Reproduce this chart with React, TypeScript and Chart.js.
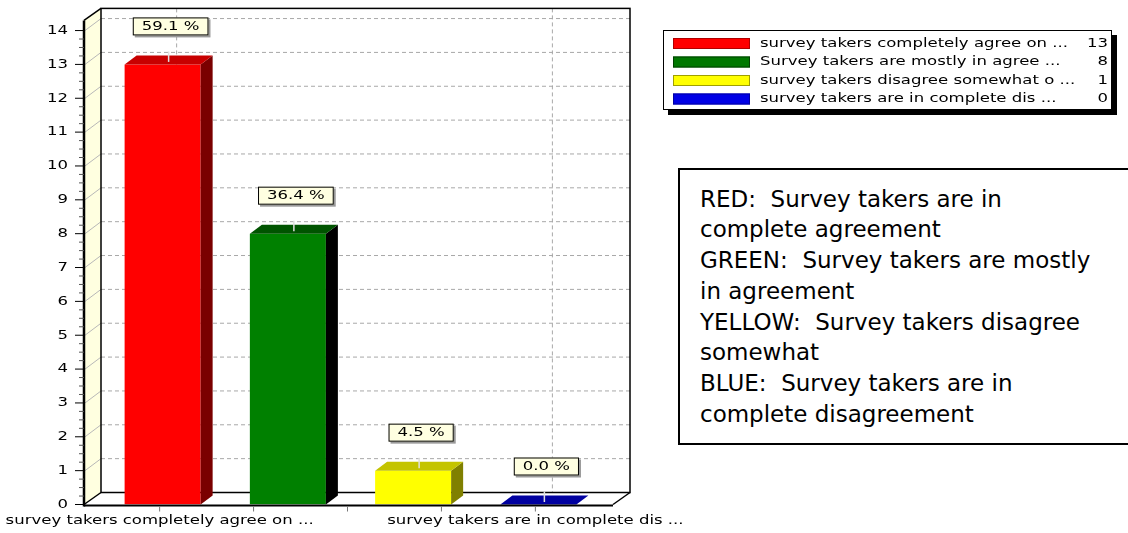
import React, { useEffect, useRef } from 'react';
import { Chart, registerables } from 'chart.js';

Chart.register(...registerables);

// ---------------- data ----------------
const categories = [
  'survey takers completely agree on ...',
  'Survey takers are mostly in agree ...',
  'survey takers disagree somewhat o ...',
  'survey takers are in complete dis ...',
];
const counts = [13, 8, 1, 0];
const yTickValues = [0, 1, 2, 3, 4, 5, 6, 7, 8, 9, 10, 11, 12, 13, 14];
const labelledCategories = [0, 3];
const xTickPositions = [0, 0.75, 1.5, 2.25, 3];
const frontColors = ['#FF0000', '#008000', '#FFFF00', '#0000FF'];
const topColors = ['#C80000', '#005400', '#C4C400', '#0000A0'];
const sideColors = ['#7A0000', '#000000', '#808000', '#000070'];
const legendColors = ['#FF0000', '#007800', '#FFFF00', '#0000E6'];
const legendBorders = ['#B00000', '#004000', '#A0A000', '#0000A0'];
const noteLines = [
  'RED:  Survey takers are in',
  'complete agreement',
  'GREEN:  Survey takers are mostly',
  'in agreement',
  'YELLOW:  Survey takers disagree',
  'somewhat',
  'BLUE:  Survey takers are in',
  'complete disagreement',
];

// ---------------- style constants ----------------
const FONT = '"DejaVu Sans", Verdana, sans-serif';
const STRETCH = 1.27;
const WALL_DX = 17;
const WALL_DY = -12;
const BAR_DX = 12;
const BAR_DY = -9;

function sText(ctx: CanvasRenderingContext2D, text: string, x: number, y: number, align: CanvasTextAlign, size = 13, color = '#000') {
  ctx.save();
  ctx.font = `${size}px ${FONT}`;
  ctx.fillStyle = color;
  ctx.textBaseline = 'middle';
  ctx.textAlign = align;
  ctx.translate(x, y);
  ctx.scale(STRETCH, 1);
  ctx.fillText(text, 0, 0);
  ctx.restore();
}
function sWidth(ctx: CanvasRenderingContext2D, text: string, size = 13) {
  ctx.save();
  ctx.font = `${size}px ${FONT}`;
  const w = ctx.measureText(text).width * STRETCH;
  ctx.restore();
  return w;
}
function poly(ctx: CanvasRenderingContext2D, pts: number[][], fill?: string, stroke?: string, lw = 1) {
  ctx.beginPath();
  ctx.moveTo(pts[0][0], pts[0][1]);
  for (let i = 1; i < pts.length; i++) ctx.lineTo(pts[i][0], pts[i][1]);
  ctx.closePath();
  if (fill) { ctx.fillStyle = fill; ctx.fill(); }
  if (stroke) { ctx.strokeStyle = stroke; ctx.lineWidth = lw; ctx.stroke(); }
}
function line(ctx: CanvasRenderingContext2D, x1: number, y1: number, x2: number, y2: number, color: string, lw = 1, dash: number[] = []) {
  ctx.save();
  ctx.beginPath();
  ctx.setLineDash(dash);
  ctx.strokeStyle = color;
  ctx.lineWidth = lw;
  ctx.moveTo(x1, y1);
  ctx.lineTo(x2, y2);
  ctx.stroke();
  ctx.restore();
}

const threeD = {
  id: 'threeD',
  beforeDatasetsDraw(chart: any) {
    const { ctx, chartArea: ca, scales } = chart;
    const x = scales.x, y = scales.y;
    const L = ca.left - 16, R = ca.right + 12;
    const y0 = y.getPixelForValue(0), yT = ca.top;
    ctx.save();
    // side wall
    poly(ctx, [[L, yT], [L + WALL_DX, yT + WALL_DY], [L + WALL_DX, y0 + WALL_DY], [L, y0]], '#FFFFE0');
    // grid
    yTickValues.forEach((v) => {
      if (v === 0) return;
      const yy = y.getPixelForValue(v);
      line(ctx, L + WALL_DX, yy + WALL_DY, R + WALL_DX, yy + WALL_DY, '#A8A8A8', 1, [4, 3]);
      line(ctx, L + 1, yy, L + WALL_DX, yy + WALL_DY, '#B8B8B8', 1);
    });
    labelledCategories.forEach((i) => {
      const xx = x.getPixelForValue(i) - 3 + WALL_DX;
      line(ctx, xx, yT + WALL_DY, xx, y0 + WALL_DY, '#A8A8A8', 1, [4, 3]);
    });
    // outlines
    ctx.strokeStyle = '#000';
    ctx.lineWidth = 1.5;
    ctx.strokeRect(L + WALL_DX, yT + WALL_DY, R - L, y0 - yT);
    line(ctx, L, yT, L + WALL_DX, yT + WALL_DY, '#000', 1.5);
    line(ctx, L, y0, L + WALL_DX, y0 + WALL_DY, '#000', 1.5);
    line(ctx, R, y0, R + WALL_DX, y0 + WALL_DY, '#000', 1.5);
    ctx.restore();
  },
  afterDatasetsDraw(chart: any) {
    const { ctx, chartArea: ca, scales } = chart;
    const x = scales.x, y = scales.y;
    const L = ca.left - 16, R = ca.right + 12;
    const y0 = y.getPixelForValue(0), yT = ca.top;
    const meta = chart.getDatasetMeta(0);
    const total = counts.reduce((a, b) => a + b, 0);
    ctx.save();
    // 3D bar faces
    meta.data.forEach((bar: any, i: number) => {
      const p = bar.getProps(['x', 'y', 'base', 'width'], true);
      const x1 = p.x - p.width / 2, x2 = p.x + p.width / 2;
      const top = p.y, base = p.base;
      if (base - top > 0.5) {
        poly(ctx, [[x2, top], [x2 + BAR_DX, top + BAR_DY], [x2 + BAR_DX, base + BAR_DY], [x2, base]], sideColors[i]);
      }
      poly(ctx, [[x1, top], [x2, top], [x2 + BAR_DX, top + BAR_DY], [x1 + BAR_DX, top + BAR_DY]], topColors[i]);
      // connector mark
      const cx = p.x + BAR_DX / 2;
      line(ctx, cx, top + BAR_DY - 4, cx, top + BAR_DY / 2 + 2, '#E0E0E0', 1.5);
    });
    // floor front edge and y axis
    line(ctx, L, y0 + 1, R, y0 + 1, '#000', 2);
    line(ctx, L, yT, L, y0 + 2, '#000', 2.5);
    // y ticks and labels
    yTickValues.forEach((v, idx) => {
      const yy = y.getPixelForValue(v);
      line(ctx, L - 9, yy, L, yy, '#000', 1);
      if (idx < yTickValues.length - 1) {
        for (let k = 1; k < 4; k++) {
          const ym = y.getPixelForValue(v + k / 4);
          line(ctx, L - 5, ym, L, ym, '#555', 1);
        }
      }
      sText(ctx, String(v), 68, yy, 'right', 13, '#000');
    });
    // x ticks
    xTickPositions.forEach((t) => {
      const xx = x.getPixelForValue(t) - 3;
      line(ctx, xx, y0 + 2, xx, y0 + 7, '#777', 1);
    });
    // x labels
    labelledCategories.forEach((i) => {
      sText(ctx, categories[i], x.getPixelForValue(i) - 3, y0 + 16, 'center', 13, '#000');
    });
    // percent labels
    meta.data.forEach((bar: any, i: number) => {
      const p = bar.getProps(['x', 'y'], true);
      const txt = `${((counts[i] / total) * 100).toFixed(1)} %`;
      const w = sWidth(ctx, txt) + 18;
      const h = 18;
      const cx = p.x + 8;
      const bottom = p.y + BAR_DY - 20;
      ctx.fillStyle = '#9A9A9A';
      ctx.fillRect(cx - w / 2 + 2, bottom - h + 2, w, h);
      ctx.fillStyle = '#FFFFE1';
      ctx.fillRect(cx - w / 2, bottom - h, w, h);
      ctx.strokeStyle = '#000';
      ctx.lineWidth = 1;
      ctx.strokeRect(cx - w / 2 + 0.5, bottom - h + 0.5, w - 1, h - 1);
      sText(ctx, txt, cx, bottom - h / 2, 'center', 13, '#000');
    });
    ctx.restore();
  },
  afterDraw(chart: any) {
    const { ctx } = chart;
    ctx.save();
    const bx = 663, by = 30, bw = 449, bh = 80;
    ctx.fillStyle = '#000';
    ctx.fillRect(bx + 5, by + 5, bw, bh);
    ctx.fillStyle = '#FFF';
    ctx.fillRect(bx, by, bw, bh);
    ctx.strokeStyle = '#000';
    ctx.lineWidth = 1;
    ctx.strokeRect(bx + 0.5, by + 0.5, bw - 1, bh - 1);
    categories.forEach((c, i) => {
      const ry = 43.5 + i * 18.5;
      ctx.fillStyle = legendColors[i];
      ctx.fillRect(673, ry - 5.5, 77, 11);
      ctx.strokeStyle = legendBorders[i];
      ctx.strokeRect(673.5, ry - 5, 76, 10);
      sText(ctx, c, 760, ry, 'left', 13, '#000');
      sText(ctx, String(counts[i]), 1108, ry, 'right', 13, '#000');
    });
    ctx.restore();
  },
};

export default function App() {
  const ref = useRef<HTMLCanvasElement>(null);
  useEffect(() => {
    if (!ref.current) return;
    const chart = new Chart(ref.current, {
      type: 'bar',
      data: {
        labels: categories,
        datasets: [
          {
            data: counts,
            backgroundColor: frontColors,
            borderWidth: 0,
            barPercentage: 0.607,
            categoryPercentage: 1,
          },
        ],
      },
      options: {
        responsive: false,
        animation: false,
        devicePixelRatio: 1,
        layout: { padding: { left: 100, right: 527, top: 20.4, bottom: 28.5 } },
        scales: {
          x: { display: false },
          y: { display: false, min: 0, max: 14.3 },
        },
        plugins: { legend: { display: false }, tooltip: { enabled: false } },
      },
      plugins: [threeD],
    } as any);
    return () => chart.destroy();
  }, []);
  return (
    <div style={{ position: 'absolute', left: 0, top: 0, width: 1128, height: 533, overflow: 'hidden', background: '#fff' }}>
      <canvas ref={ref} width={1128} height={533} style={{ position: 'absolute', left: 0, top: 0 }} />
      <div
        style={{
          position: 'absolute',
          left: 678,
          top: 168,
          width: 480,
          height: 277,
          boxSizing: 'border-box',
          border: '2px solid #000',
          background: '#fff',
          paddingLeft: 20,
          paddingTop: 13.7,
          fontFamily: FONT,
          fontSize: 23,
          lineHeight: '30.7px',
          color: '#000',
          whiteSpace: 'pre',
        }}
      >
        {noteLines.map((t, i) => (
          <div key={i}>{t}</div>
        ))}
      </div>
    </div>
  );
}
